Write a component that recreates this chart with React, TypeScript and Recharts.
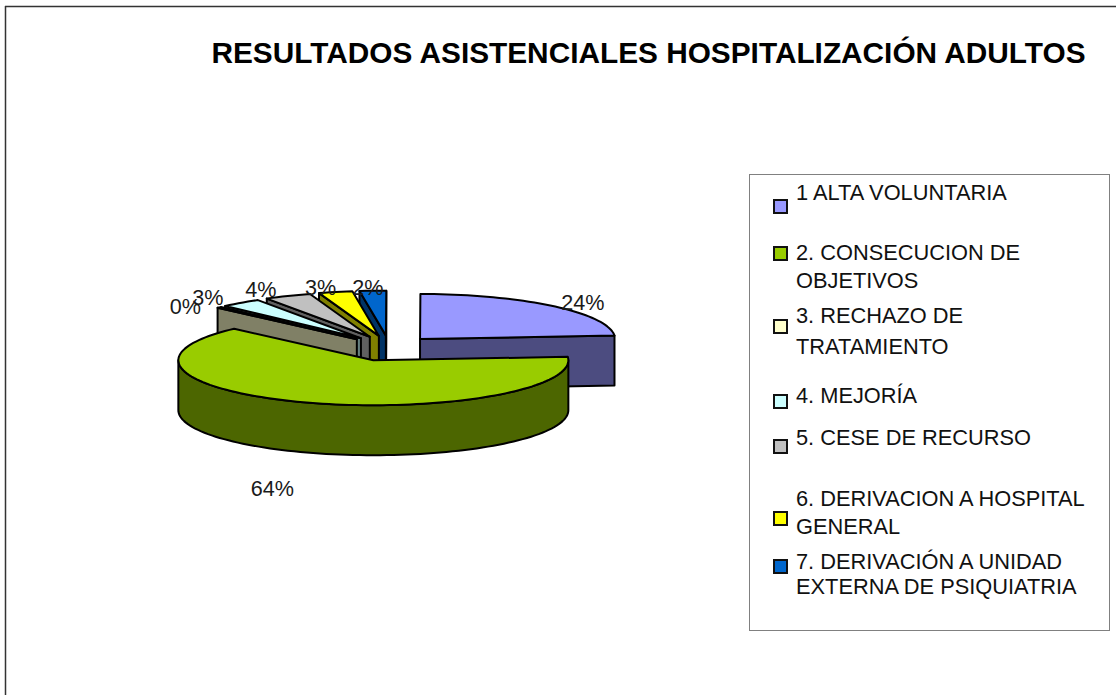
import React from 'react';
import { PieChart, Pie, Legend } from 'recharts';

const TITLE = 'RESULTADOS ASISTENCIALES HOSPITALIZACIÓN ADULTOS';

// Legend order as the reference lists it
const legendLines: string[][] = [
  ['1 ALTA VOLUNTARIA'],
  ['2. CONSECUCION DE', 'OBJETIVOS'],
  ['3. RECHAZO DE', 'TRATAMIENTO'],
  ['4. MEJORÍA'],
  ['5. CESE DE RECURSO'],
  ['6. DERIVACION A HOSPITAL', 'GENERAL'],
  ['7. DERIVACIÓN A UNIDAD', 'EXTERNA DE PSIQUIATRIA'],
];
const legendFills = ['#9999FF', '#99CC00', '#FFFFCC', '#CCFFFF', '#C0C0C0', '#FFFF00', '#0066CC'];

// Slice shares, in legend order
const sliceValues = [23.8, 63.6, 0.4, 3.4, 3.9, 2.8, 2.2];
const wallFills = ['#4C4C80', '#4C6600', '#808066', '#668080', '#606060', '#808000', '#003366'];

// Paint order: back slices first, the big front slice last
const paintOrder = [0, 6, 5, 4, 3, 2, 1];
const pieData = paintOrder.map((i) => ({
  name: legendLines[i].join(' '),
  value: sliceValues[i],
  fill: legendFills[i],
  wall: wallFills[i],
  legendIndex: i,
}));

// Projection of the tilted pie
const CX = 389;
const CY = 348.3;
const RX = 195;
const RY = 45;
const DEPTH = 50;
const EXPLODE_X = 45.6;
const EXPLODE_Y = 12.7;
const rad = (d: number) => (d * Math.PI) / 180;

// Label offsets from the slice's projected rim point, legend order
const labelOffsets: [number, number][] = [
  [30, -4],
  [-34, 86],
  [-34, -1],
  [-33, -5],
  [-27, -6],
  [-15, -5],
  [-5, -3],
];

// Legend layout: y of every text line, y of marker centre
const legendLineY: number[][] = [[193], [253, 281], [316, 347], [396], [438], [499, 527], [562, 587]];
const legendMarkY = [205, 252, 325, 400, 445, 517, 565];

function Slice3D(props: any) {
  const { startAngle, endAngle, payload, fill, wall } = props;
  const p = payload ?? props;
  const top = fill ?? p.fill;
  const side = wall ?? p.wall;
  // clockwise degrees from 12 o'clock
  const a0 = 90 - Math.max(startAngle, endAngle);
  const b0 = 90 - Math.min(startAngle, endAngle);
  const a = ((a0 % 360) + 360) % 360;
  const b = a + (b0 - a0);
  const mid = (a + b) / 2;
  const cx = CX + EXPLODE_X * Math.sin(rad(mid));
  const cy = CY - EXPLODE_Y * Math.cos(rad(mid));
  const pt = (t: number, dz = 0) => [cx + RX * Math.sin(rad(t)), cy - RY * Math.cos(rad(t)) + dz];
  const arc = (from: number, to: number, dz = 0) => {
    const out: number[][] = [];
    const n = Math.max(2, Math.ceil(Math.abs(to - from) / 2));
    for (let i = 0; i <= n; i++) out.push(pt(from + ((to - from) * i) / n, dz));
    return out;
  };
  const poly = (pts: number[][]) =>
    pts.map((q, i) => `${i ? 'L' : 'M'}${q[0].toFixed(2)} ${q[1].toFixed(2)}`).join(' ') + ' Z';
  const stroke = { stroke: '#000', strokeWidth: 2, strokeLinejoin: 'round' as const };
  const parts: React.ReactNode[] = [];
  if (Math.sin(rad(a)) < 0) {
    const e = pt(a);
    parts.push(<path key="s" d={poly([[cx, cy], e, [e[0], e[1] + DEPTH], [cx, cy + DEPTH]])} fill={side} {...stroke} />);
  }
  if (Math.sin(rad(b)) > 0) {
    const e = pt(b);
    parts.push(<path key="e" d={poly([[cx, cy], e, [e[0], e[1] + DEPTH], [cx, cy + DEPTH]])} fill={side} {...stroke} />);
  }
  const r0 = Math.max(a, 90);
  const r1 = Math.min(b, 270);
  if (r1 > r0) {
    parts.push(
      <path key="r" d={poly([...arc(r0, r1), ...arc(r1, r0, DEPTH)])} fill={side} {...stroke} />,
    );
  }
  parts.push(<path key="t" d={poly([[cx, cy], ...arc(a, b)])} fill={top} {...stroke} />);
  return <g>{parts}</g>;
}

function SliceLabel(props: any) {
  const { midAngle, percent, payload, index } = props;
  const mid = ((90 - midAngle) % 360 + 360) % 360;
  const cx = CX + EXPLODE_X * Math.sin(rad(mid));
  const cy = CY - EXPLODE_Y * Math.cos(rad(mid));
  const li = payload?.legendIndex ?? pieData[index].legendIndex;
  const [dx, dy] = labelOffsets[li];
  const x = cx + RX * Math.sin(rad(mid)) + dx;
  const y = cy - RY * Math.cos(rad(mid)) + dy;
  return (
    <text x={x} y={y} textAnchor="middle" dominantBaseline="central" fontFamily="'Liberation Sans', Arial, sans-serif" fontSize={21.6} fill="#1a1a1a">
      {`${Math.round(percent * 100)}%`}
    </text>
  );
}

function LegendBox() {
  return (
    <div style={{ position: 'absolute', left: 0, top: 0, width: 1116, height: 695, pointerEvents: 'none', fontFamily: "'Liberation Sans', Arial, sans-serif", fontSize: 21.8, color: '#111' }}>
      <div style={{ position: 'absolute', left: 749, top: 174, width: 359, height: 455, border: '1.5px solid #808080', background: '#fff' }} />
      {legendLines.map((lines, i) => (
        <React.Fragment key={i}>
          <div style={{ position: 'absolute', left: 773, top: legendMarkY[i] - 6.5, width: 11, height: 11, border: '2px solid #111', background: legendFills[i] }} />
          {lines.map((t, j) => (
            <div key={j} style={{ position: 'absolute', left: 796, top: legendLineY[i][j] - 12, lineHeight: '24px', whiteSpace: 'nowrap' }}>
              {t}
            </div>
          ))}
        </React.Fragment>
      ))}
    </div>
  );
}

export default function App() {
  return (
    <div style={{ position: 'absolute', left: 0, top: 0, width: 1116, height: 695, background: '#fff' }}>
      <PieChart width={1116} height={695} margin={{ top: 0, right: 0, bottom: 0, left: 0 }}>
        <line x1={5.5} y1={6} x2={5.5} y2={695} stroke="#333" strokeWidth={1.5} />
        <line x1={5} y1={6.5} x2={1116} y2={6.5} stroke="#333" strokeWidth={1.5} />
        <text x={648.5} y={63} textAnchor="middle" fontFamily="'Liberation Sans', Arial, sans-serif" fontWeight="bold" fontSize={29.8} fill="#000">
          {TITLE}
        </text>
        <Legend layout="horizontal" verticalAlign="middle" align="center" content={<LegendBox />} wrapperStyle={{ left: 0, top: 0, width: 1116, height: 695 }} />
        <Pie
          data={pieData}
          dataKey="value"
          nameKey="name"
          cx={CX}
          cy={CY}
          outerRadius={RX}
          startAngle={4.3}
          endAngle={364.3}
          isAnimationActive={false}
          shape={Slice3D}
          inactiveShape={Slice3D}
          activeShape={Slice3D}
          label={SliceLabel}
          labelLine={false}
        />
      </PieChart>
    </div>
  );
}
